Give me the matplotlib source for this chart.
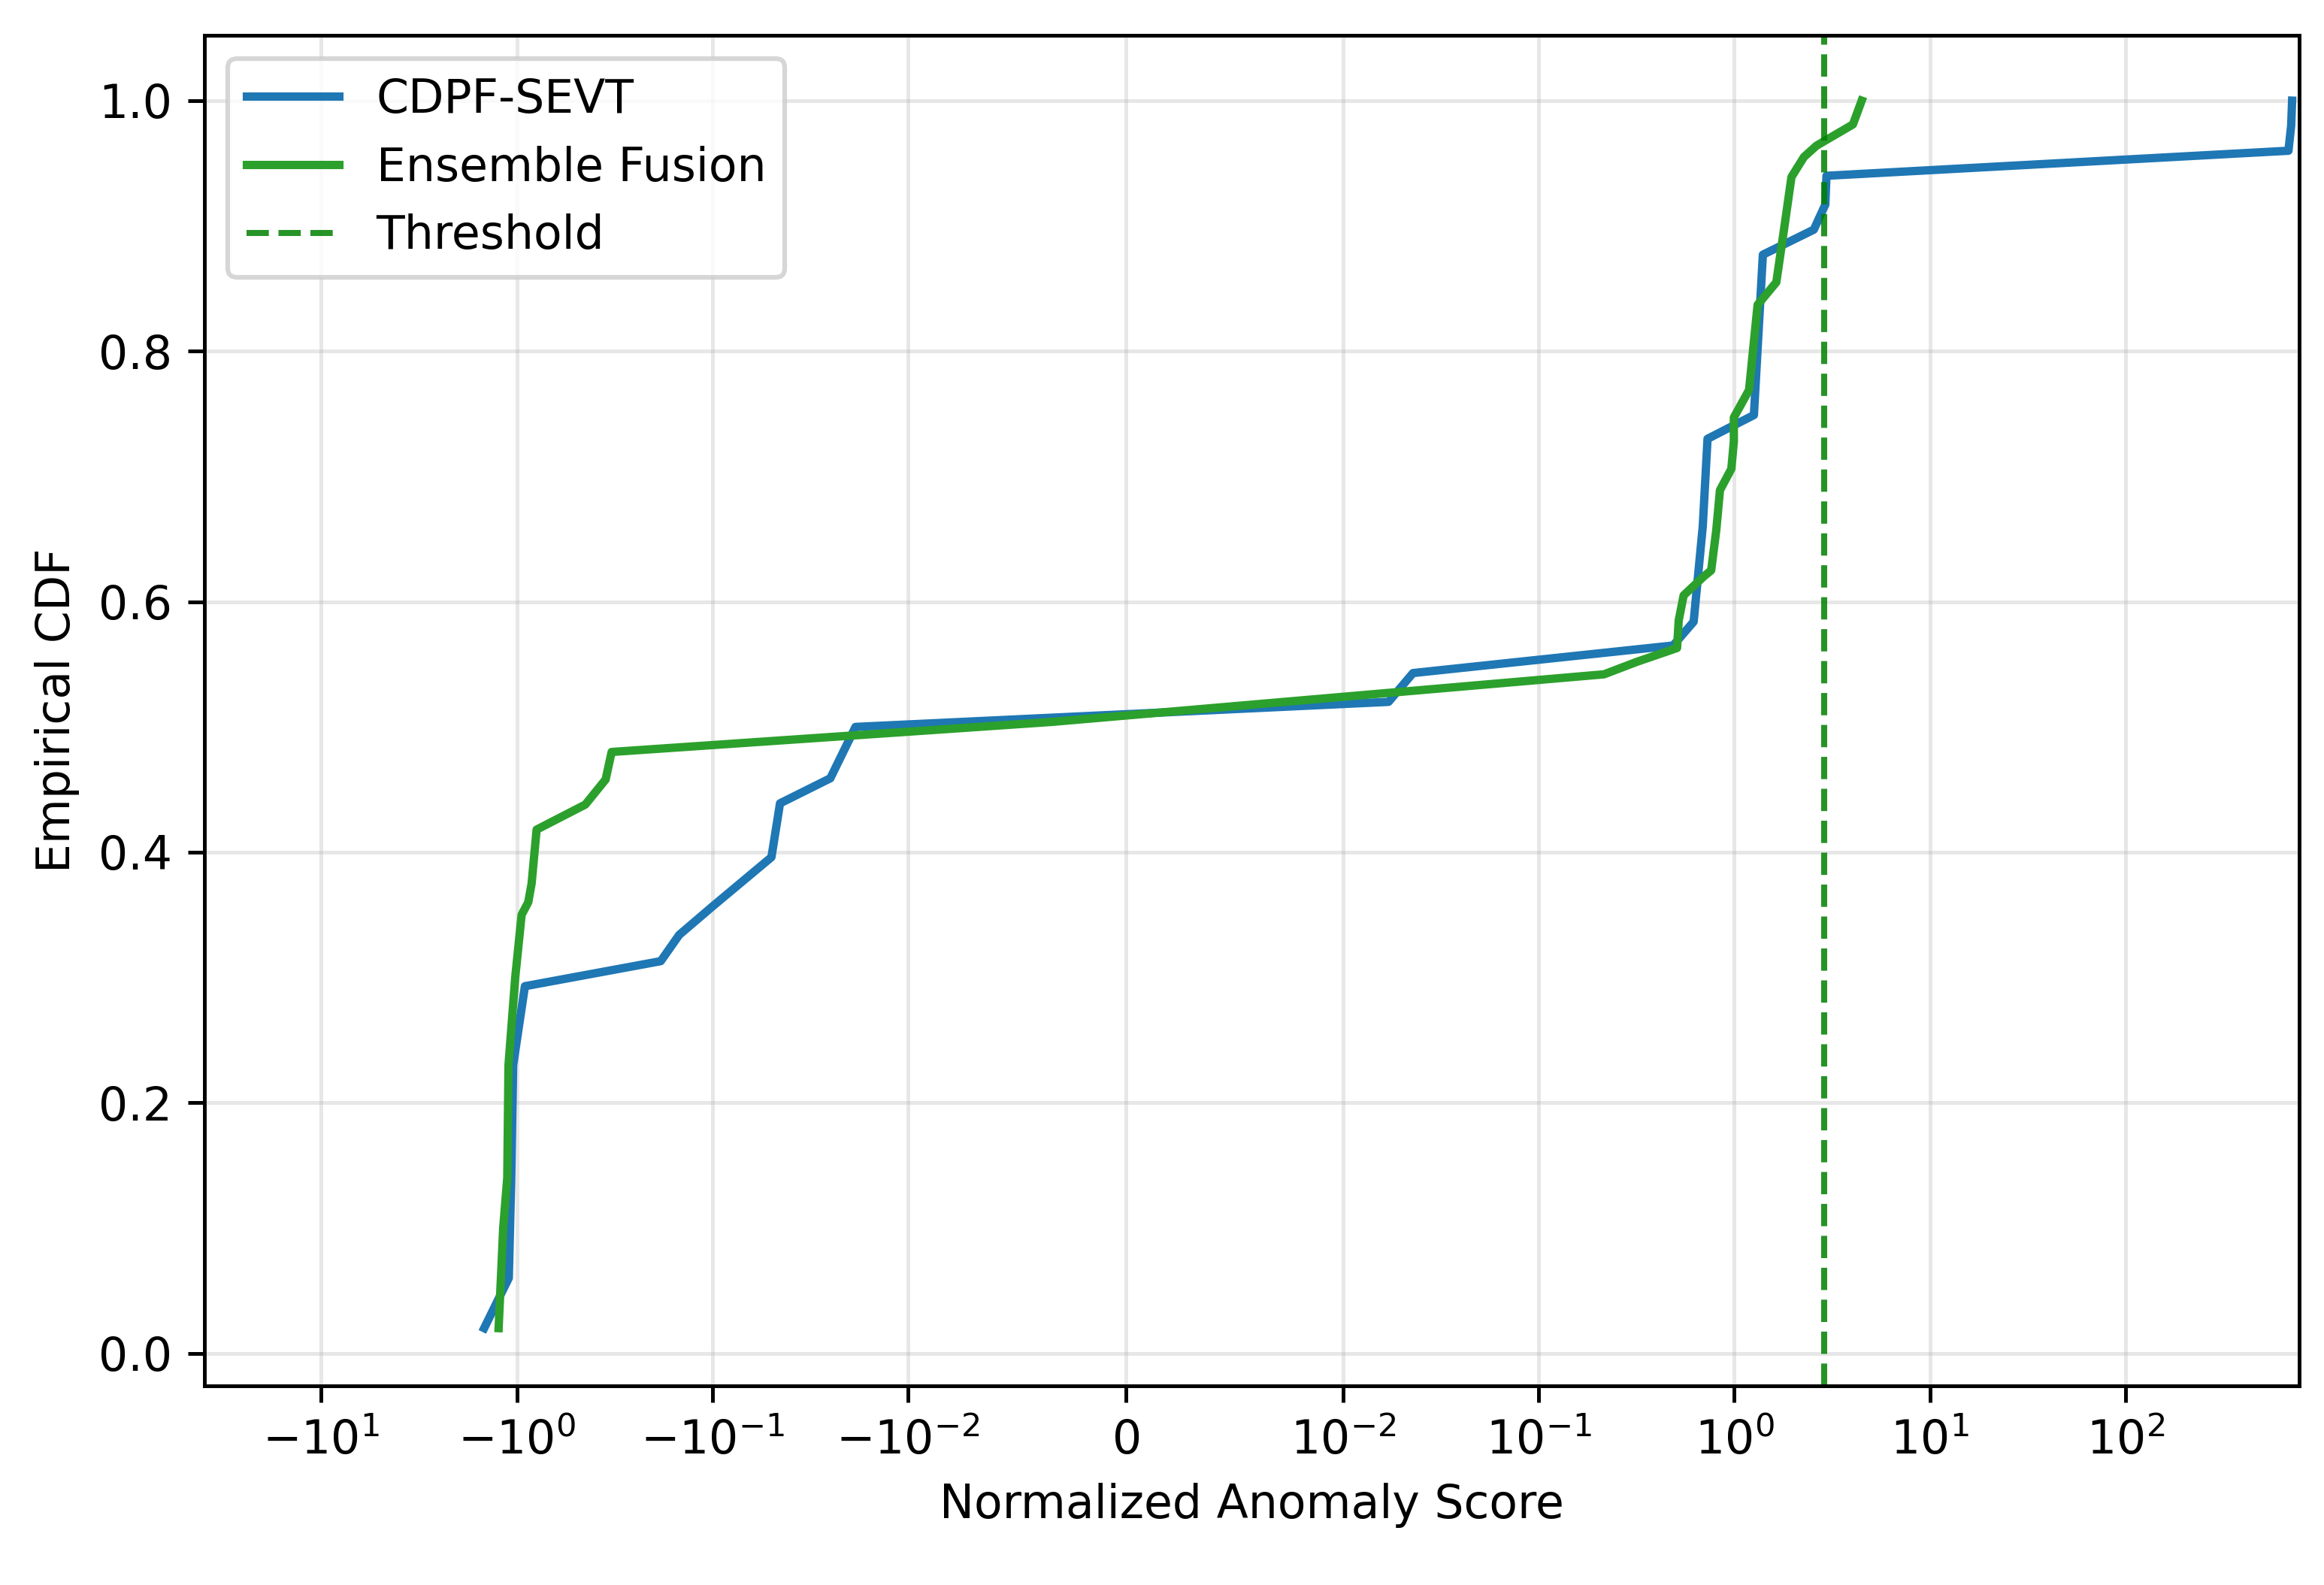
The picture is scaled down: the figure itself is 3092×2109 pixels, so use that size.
import matplotlib
matplotlib.use("Agg")
import matplotlib.pyplot as plt

# CDPF-SEVT empirical CDF vertices (score, cdf)
cdpf_x = [-1.47, -1.10, -1.07, -1.045, -0.91, -0.184, -0.148, -0.0995, -0.050,
          -0.0452, -0.025, -0.0186, 0.0171, 0.0228, 0.487, 0.62, 0.69, 0.73,
          1.26, 1.40, 2.55, 2.92, 2.96, 680.0, 702.0, 710.0]
cdpf_y = [0.02, 0.06, 0.136, 0.23, 0.293, 0.313, 0.334, 0.357, 0.396,
          0.439, 0.459, 0.50, 0.52, 0.543, 0.565, 0.584, 0.66, 0.73,
          0.749, 0.877, 0.897, 0.917, 0.94, 0.96, 0.98, 1.0]

# Ensemble Fusion empirical CDF vertices (score, cdf)
ens_x = [-1.24, -1.175, -1.12, -1.104, -1.02, -0.946, -0.875, -0.841, -0.793,
         -0.447, -0.352, -0.328, -0.0034, 0.216, 0.318, 0.51, 0.52, 0.551,
         0.697, 0.762, 0.809, 0.845, 0.966, 0.995, 0.995, 1.19, 1.316, 1.64,
         1.795, 1.96, 2.27, 2.63, 4.04, 4.48]
ens_y = [0.02, 0.10, 0.14, 0.23, 0.30, 0.35, 0.36, 0.375, 0.418,
         0.438, 0.458, 0.48, 0.504, 0.542, 0.552, 0.563, 0.585, 0.605,
         0.62, 0.625, 0.657, 0.689, 0.706, 0.728, 0.747, 0.769, 0.837, 0.855,
         0.897, 0.939, 0.955, 0.964, 0.981, 1.0]

threshold = 2.88
x_limits = (-39.4, 769.0)

W, H, DPI = 3092, 2109, 444
fig = plt.figure(figsize=(W / DPI, H / DPI), dpi=DPI)
ax = fig.add_axes([0.0881, 0.1257, 0.9892 - 0.0881, 0.9776 - 0.1257])

ax.plot(cdpf_x, cdpf_y, color="#1f77b4", lw=1.8, label="CDPF-SEVT")
ax.plot(ens_x, ens_y, color="#2ca02c", lw=1.8, label="Ensemble Fusion")
ax.axvline(threshold, color="green", linestyle="--", lw=1.3, alpha=0.85, label="Threshold")

ax.set_xscale("symlog", linthresh=0.01)
ax.set_xlim(*x_limits)
ax.set_ylim(-0.026, 1.052)
ax.set_xlabel("Normalized Anomaly Score")
ax.set_ylabel("Empirical CDF")
ax.grid(True, alpha=0.3)
ax.legend(loc="upper left")

fig.savefig("out.png", dpi=DPI)
